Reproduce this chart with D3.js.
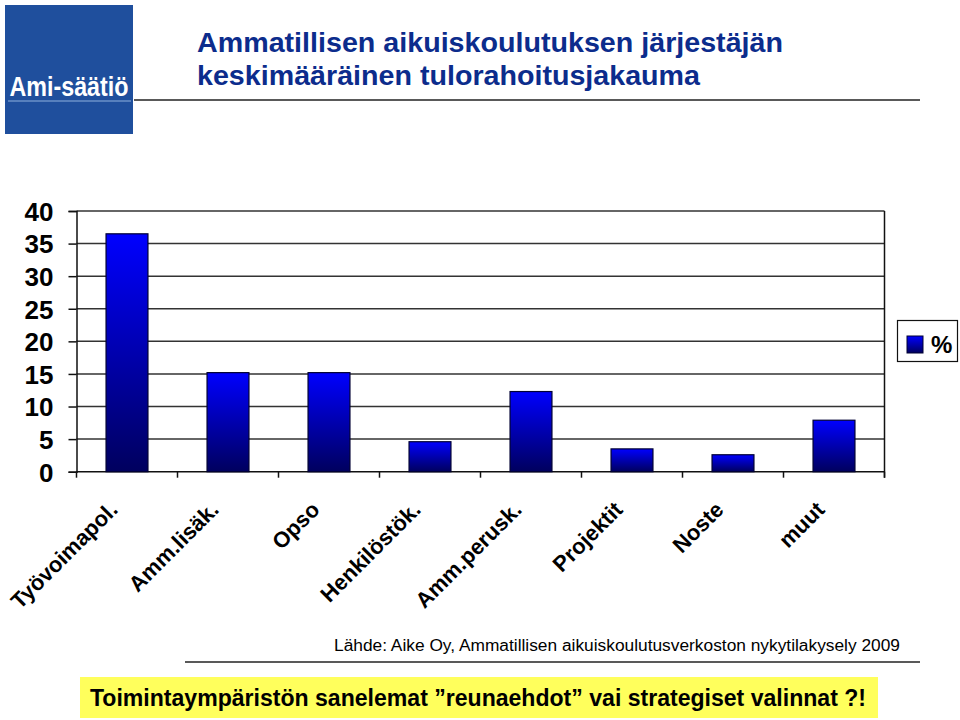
<!DOCTYPE html>
<html>
<head>
<meta charset="utf-8">
<script src="https://cdn.jsdelivr.net/npm/d3@7"></script>
<style>
  html, body { margin: 0; padding: 0; background: #fff; }
  svg { display: block; font-family: "Liberation Sans", Arial, sans-serif; }
</style>
</head>
<body>
<svg id="chart" width="960" height="720"></svg>
<script>
const categories = ["Työvoimapol.", "Amm.lisäk.", "Opso", "Henkilöstök.", "Amm.perusk.", "Projektit", "Noste", "muut"];
const values = [36.5, 15.2, 15.2, 4.6, 12.3, 3.5, 2.6, 7.9];
const yTicks = [0, 5, 10, 15, 20, 25, 30, 35, 40];
const seriesName = "%";
const titleLines = ["Ammatillisen aikuiskoulutuksen järjestäjän", "keskimääräinen tulorahoitusjakauma"];
const sourceText = "Lähde: Aike Oy, Ammatillisen aikuiskoulutusverkoston nykytilakysely 2009";
const bottomText = "Toimintaympäristön sanelemat ”reunaehdot” vai strategiset valinnat ?!";
const logoText = "Ami-säätiö";

(function () {
const svg = d3.select("#chart");
const defs = svg.append("defs");
const grad = defs.append("linearGradient").attr("id", "barGrad")
  .attr("x1", 0).attr("y1", 0).attr("x2", 0).attr("y2", 1);
grad.append("stop").attr("offset", "0%").attr("stop-color", "#0000ff");
grad.append("stop").attr("offset", "100%").attr("stop-color", "#00005e");

// Logo
svg.append("rect").attr("x", 5).attr("y", 5).attr("width", 128).attr("height", 129).attr("fill", "#1f4f9d");
svg.append("text").attr("x", 69).attr("y", 96).attr("text-anchor", "middle")
  .attr("fill", "#fff").attr("font-weight", "bold").attr("font-size", 27)
  .attr("textLength", 119).attr("lengthAdjust", "spacingAndGlyphs").text(logoText);
svg.append("line").attr("x1", 8).attr("x2", 131).attr("y1", 101).attr("y2", 101)
  .attr("stroke", "#8fb2de").attr("stroke-width", 1);

// Title
const titleWidths = [586, 503];
titleLines.forEach((t, i) => {
  svg.append("text").attr("x", 197).attr("y", 52 + i * 33)
    .attr("fill", "#0c2c8c").attr("font-weight", "bold").attr("font-size", 28)
    .attr("textLength", titleWidths[i]).attr("lengthAdjust", "spacingAndGlyphs").text(t);
});
svg.append("line").attr("x1", 134).attr("x2", 920).attr("y1", 100).attr("y2", 100)
  .attr("stroke", "#222").attr("stroke-width", 1.5);

// Plot
const pLeft = 76.5, pRight = 884.5, pTop = 211, pBottom = 471.7;
const x = d3.scaleBand().domain(categories).range([pLeft, pRight]).paddingInner(0.585).paddingOuter(0.2925);
const y = d3.scaleLinear().domain([0, 40]).range([pBottom, pTop]);

// gridlines
svg.append("g").selectAll("line").data(yTicks.filter(d => d > 0)).join("line")
  .attr("x1", pLeft).attr("x2", pRight).attr("y1", d => y(d)).attr("y2", d => y(d))
  .attr("stroke", "#333").attr("stroke-width", 1.5);
// right border
svg.append("line").attr("x1", pRight).attr("x2", pRight).attr("y1", pTop).attr("y2", pBottom + 6)
  .attr("stroke", "#111").attr("stroke-width", 1.5);

// y axis
const yAxis = d3.axisLeft(y).tickValues(yTicks).tickSize(8).tickPadding(15);
const yg = svg.append("g").attr("transform", `translate(${pLeft},0)`).call(yAxis);
yg.select(".domain").attr("stroke", "#111").attr("stroke-width", 1.5);
yg.selectAll(".tick line").attr("stroke", "#111").attr("stroke-width", 1.5);
yg.selectAll(".tick text").attr("font-size", 26).attr("font-weight", "bold")
  .attr("fill", "#000").attr("font-family", "Liberation Sans, Arial, sans-serif")
  .attr("dy", "0.36em");

// x axis line and ticks at band boundaries
const step = x.step();
const boundaries = d3.range(categories.length + 1).map(i => pLeft + i * step);
svg.append("line").attr("x1", pLeft).attr("x2", pRight).attr("y1", pBottom).attr("y2", pBottom)
  .attr("stroke", "#111").attr("stroke-width", 1.5);
svg.append("g").selectAll("line").data(boundaries).join("line")
  .attr("x1", d => d).attr("x2", d => d).attr("y1", pBottom).attr("y2", pBottom + 6)
  .attr("stroke", "#111").attr("stroke-width", 1.5);

// bars
svg.append("g").selectAll("rect").data(values).join("rect")
  .attr("x", (d, i) => x(categories[i]))
  .attr("y", d => y(d))
  .attr("width", x.bandwidth())
  .attr("height", d => pBottom - y(d))
  .attr("fill", "url(#barGrad)")
  .attr("stroke", "#000033").attr("stroke-width", 1.2);

// category labels
svg.append("g").selectAll("text").data(categories).join("text")
  .attr("transform", d => `translate(${x(d) + x.bandwidth() / 2 - 8},${511}) rotate(-45)`)
  .attr("text-anchor", "end")
  .attr("font-size", 22).attr("font-weight", "bold").attr("fill", "#000")
  .text(d => d);

// legend
svg.append("rect").attr("x", 897.5).attr("y", 320.5).attr("width", 60).attr("height", 41)
  .attr("fill", "#fff").attr("stroke", "#111").attr("stroke-width", 1.2);
svg.append("rect").attr("x", 907).attr("y", 336).attr("width", 16).attr("height", 17)
  .attr("fill", "url(#barGrad)").attr("stroke", "#000033").attr("stroke-width", 1);
svg.append("text").attr("x", 931).attr("y", 353).attr("font-size", 24).attr("font-weight", "bold")
  .attr("fill", "#000").text(seriesName);

// source
svg.append("text").attr("x", 900).attr("y", 651).attr("text-anchor", "end")
  .attr("font-size", 16).attr("fill", "#000")
  .attr("textLength", 566).attr("lengthAdjust", "spacingAndGlyphs").text(sourceText);
svg.append("line").attr("x1", 185).attr("x2", 920).attr("y1", 662).attr("y2", 662)
  .attr("stroke", "#222").attr("stroke-width", 1.5);

// bottom banner
svg.append("rect").attr("x", 80).attr("y", 677).attr("width", 798).attr("height", 41).attr("fill", "#ffff5c");
svg.append("text").attr("x", 90).attr("y", 706)
  .attr("font-size", 23).attr("font-weight", "bold").attr("fill", "#000")
  .attr("textLength", 776).attr("lengthAdjust", "spacingAndGlyphs").text(bottomText);
})();
</script>
</body>
</html>
